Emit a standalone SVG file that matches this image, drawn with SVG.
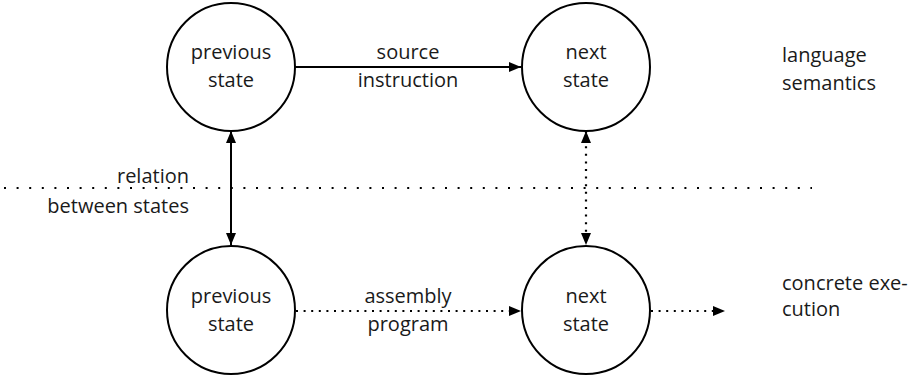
<svg xmlns="http://www.w3.org/2000/svg" width="913" height="376" viewBox="0 0 913 376">
<style>
.node circle{fill:#fff;stroke:#000;stroke-width:2}
text{font-family:"Open Sans","DejaVu Sans",sans-serif;font-size:20px;fill:#1a1a1a}
.c{text-anchor:middle}
.r{text-anchor:end}
.solid{stroke:#000;stroke-width:2;fill:none}
.dot{stroke:#000;stroke-width:2.2;fill:none;stroke-dasharray:2 5.6}
.sep{stroke:#000;stroke-width:2.2;fill:none;stroke-dasharray:2 10.6}
</style>
<defs>
<marker id="ah" viewBox="0 0 12 10" refX="12" refY="5" markerWidth="12" markerHeight="10" markerUnits="userSpaceOnUse" orient="auto-start-reverse">
<path d="M0,0 L12,5 L0,10 Z" fill="#000"/>
</marker>
</defs>
<g id="connectors">
<line class="sep" x1="4" y1="188" x2="812" y2="188"/>
<line class="solid" x1="295" y1="67" x2="521" y2="67" marker-end="url(#ah)"/>
<line class="solid" x1="231" y1="131" x2="231" y2="245" marker-start="url(#ah)" marker-end="url(#ah)"/>
<line class="dot" x1="586" y1="131" x2="586" y2="245" marker-start="url(#ah)" marker-end="url(#ah)"/>
<line class="dot" x1="296" y1="311" x2="521" y2="311" marker-end="url(#ah)"/>
<line class="dot" x1="651" y1="311" x2="725" y2="311" marker-end="url(#ah)"/>
<text class="c" x="408" y="59">source</text>
<text class="c" x="408" y="87">instruction</text>
<text class="c" x="408" y="303">assembly</text>
<text class="c" x="408" y="331">program</text>
<text class="r" x="189" y="183">relation</text>
<text class="r" x="189" y="213">between states</text>
</g>
<g id="prev_top" class="node"><circle cx="231" cy="67" r="64"/><text class="c" x="231" y="59">previous</text><text class="c" x="231" y="87">state</text></g>
<g id="next_top" class="node"><circle cx="586" cy="67" r="64"/><text class="c" x="586" y="59">next</text><text class="c" x="586" y="87">state</text></g>
<g id="prev_bot" class="node"><circle cx="231" cy="310" r="64"/><text class="c" x="231" y="303">previous</text><text class="c" x="231" y="331">state</text></g>
<g id="next_bot" class="node"><circle cx="586" cy="310" r="64"/><text class="c" x="586" y="303">next</text><text class="c" x="586" y="331">state</text></g>
<g id="labels">
<text x="782" y="62">language</text>
<text x="782" y="90">semantics</text>
<text x="782" y="290">concrete exe-</text>
<text x="782" y="316">cution</text>
</g>
</svg>
